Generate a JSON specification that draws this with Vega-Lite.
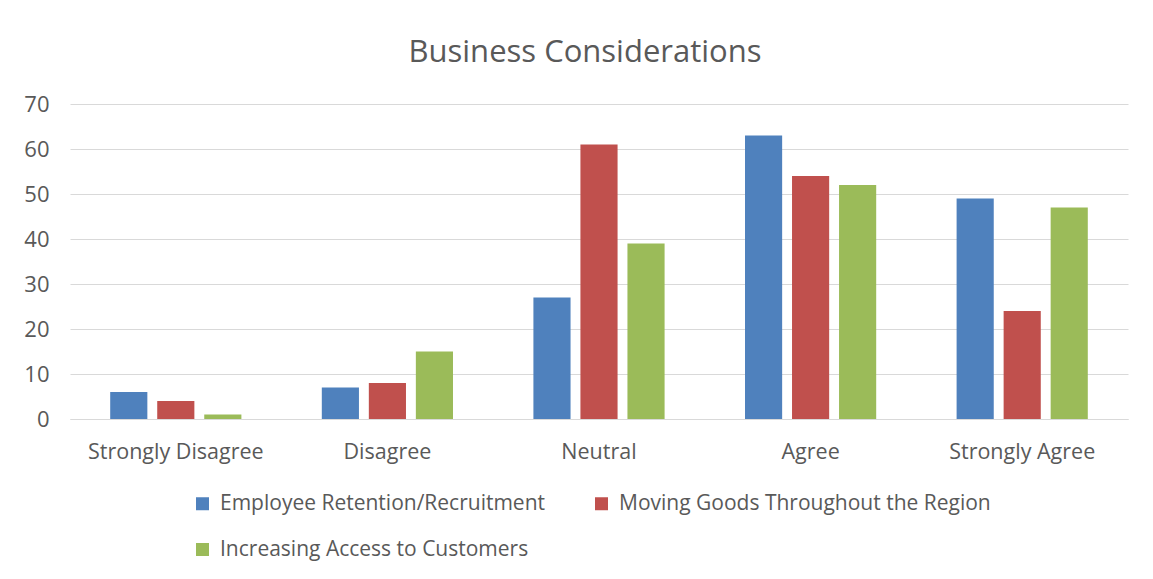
{
  "$schema": "https://vega.github.io/schema/vega-lite/v6.json",
  "autosize": "none",
  "width": 1058,
  "height": 315,
  "padding": {"left": 70, "top": 104, "right": 25, "bottom": 160},
  "background": "white",
  "title": {
    "text": "Business Considerations",
    "font": "Open Sans",
    "fontSize": 31,
    "fontWeight": "normal",
    "color": "#595959",
    "anchor": "middle",
    "baseline": "alphabetic",
    "dx": -14,
    "offset": 0
  },
  "data": {
    "values": [
      {"Response": "Strongly Disagree", "Series": "Employee Retention/Recruitment", "Count": 6},
      {"Response": "Strongly Disagree", "Series": "Moving Goods Throughout the Region", "Count": 4},
      {"Response": "Strongly Disagree", "Series": "Increasing Access to Customers", "Count": 1},
      {"Response": "Disagree", "Series": "Employee Retention/Recruitment", "Count": 7},
      {"Response": "Disagree", "Series": "Moving Goods Throughout the Region", "Count": 8},
      {"Response": "Disagree", "Series": "Increasing Access to Customers", "Count": 15},
      {"Response": "Neutral", "Series": "Employee Retention/Recruitment", "Count": 27},
      {"Response": "Neutral", "Series": "Moving Goods Throughout the Region", "Count": 61},
      {"Response": "Neutral", "Series": "Increasing Access to Customers", "Count": 39},
      {"Response": "Agree", "Series": "Employee Retention/Recruitment", "Count": 63},
      {"Response": "Agree", "Series": "Moving Goods Throughout the Region", "Count": 54},
      {"Response": "Agree", "Series": "Increasing Access to Customers", "Count": 52},
      {"Response": "Strongly Agree", "Series": "Employee Retention/Recruitment", "Count": 49},
      {"Response": "Strongly Agree", "Series": "Moving Goods Throughout the Region", "Count": 24},
      {"Response": "Strongly Agree", "Series": "Increasing Access to Customers", "Count": 47}
    ]
  },
  "mark": {"type": "bar"},
  "encoding": {
    "x": {
      "field": "Response",
      "type": "nominal",
      "sort": ["Strongly Disagree", "Disagree", "Neutral", "Agree", "Strongly Agree"],
      "scale": {"paddingInner": 0.38, "paddingOuter": 0.19},
      "axis": {
        "title": null,
        "labelAngle": 0,
        "labelFont": "Open Sans",
        "labelFontSize": 21.5,
        "labelColor": "#595959",
        "labelPadding": 22,
        "ticks": false,
        "domain": true,
        "domainColor": "#d9d9d9",
        "domainWidth": 1,
        "grid": false
      }
    },
    "xOffset": {
      "field": "Series",
      "type": "nominal",
      "sort": ["Employee Retention/Recruitment", "Moving Goods Throughout the Region", "Increasing Access to Customers"],
      "scale": {"paddingInner": 0.21, "paddingOuter": 0}
    },
    "y": {
      "field": "Count",
      "type": "quantitative",
      "scale": {"domain": [0, 70]},
      "axis": {
        "title": null,
        "values": [0, 10, 20, 30, 40, 50, 60, 70],
        "labelFont": "Open Sans",
        "labelFontSize": 22,
        "labelColor": "#595959",
        "labelPadding": 21,
        "ticks": false,
        "domain": false,
        "grid": true,
        "gridColor": "#d9d9d9",
        "gridWidth": 1
      }
    },
    "color": {
      "field": "Series",
      "type": "nominal",
      "sort": ["Employee Retention/Recruitment", "Moving Goods Throughout the Region", "Increasing Access to Customers"],
      "scale": {
        "domain": ["Employee Retention/Recruitment", "Moving Goods Throughout the Region", "Increasing Access to Customers"],
        "range": ["#4F81BD", "#C0504D", "#9BBB59"]
      },
      "legend": {
        "title": null,
        "orient": "none",
        "legendX": 122,
        "legendY": 389,
        "direction": "horizontal",
        "columns": 2,
        "symbolType": "square",
        "symbolSize": 169,
        "symbolStrokeWidth": 0,
        "labelFont": "Open Sans",
        "labelFontSize": 21,
        "labelColor": "#595959",
        "labelOffset": 7,
        "labelLimit": 500,
        "rowPadding": 24,
        "columnPadding": 45
      }
    }
  },
  "config": {
    "view": {"stroke": null}
  }
}
